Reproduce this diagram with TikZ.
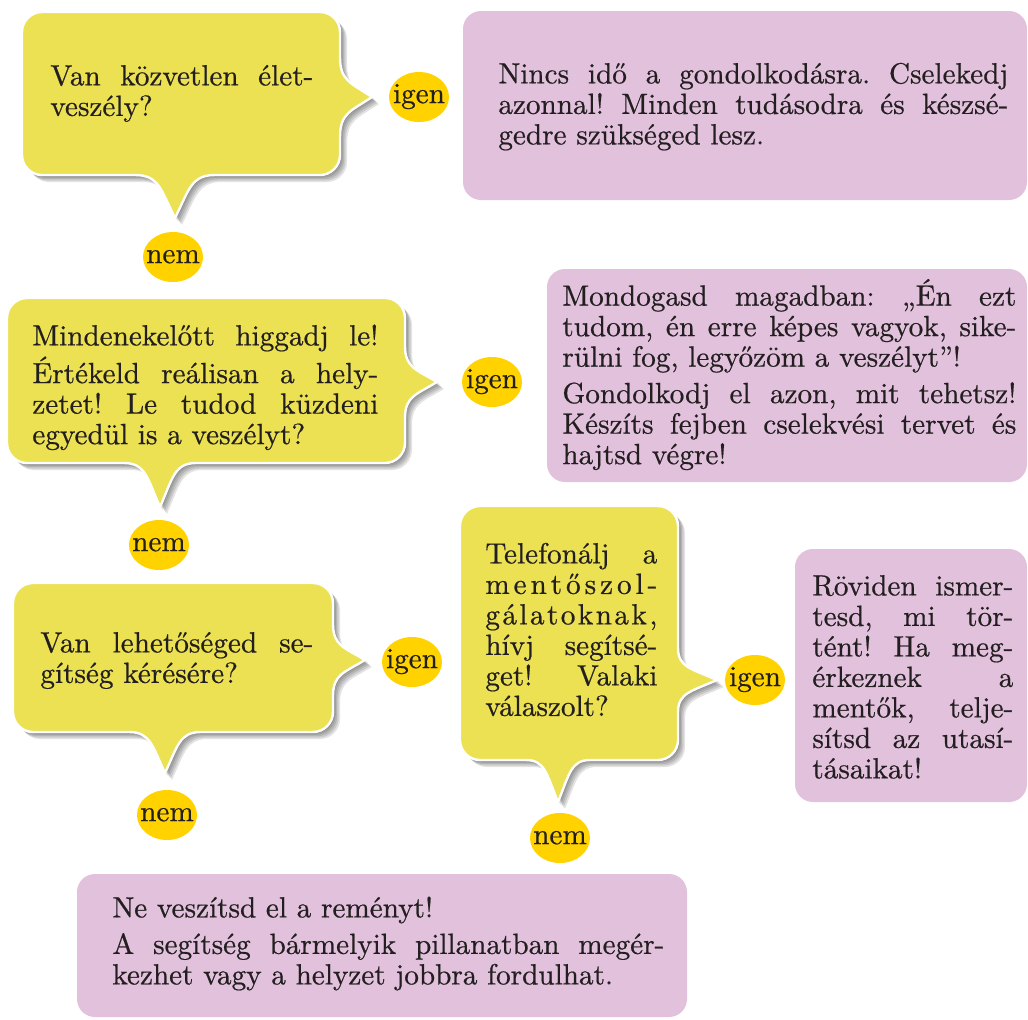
\documentclass[tikz,border=0pt]{standalone}
\usepackage{fontspec}
\setmainfont{lmroman10-regular.otf}[FakeBold=0.6]
\usetikzlibrary{shapes.geometric}

\definecolor{bubbleyellow}{RGB}{235,225,82}
\definecolor{boxpurple}{RGB}{226,193,221}
\definecolor{labelgold}{RGB}{255,210,0}
\definecolor{textdark}{RGB}{35,31,32}

% one justified line, one left-aligned line
\newcommand{\jline}[1]{\hbox to \hsize{\strut #1}}
\newcommand{\lline}[1]{\hbox to \hsize{\strut #1\hfil}}
\newcommand{\textlines}[2]{\vbox{\hsize=#1\relax\frenchspacing #2}}

% left, top, right, bottom, right tip x, right tip y, bottom tip x, bottom tip y, half base
\newcommand{\bubblepath}[9]{%
  (#1+20,#2) -- (#3-20,#2) .. controls (#3-9,#2) and (#3,#2+9) .. (#3,#2+20)
  -- (#3,#6-#9) .. controls (#3,#6-0.4*#9) and (#3+0.35*#5-0.35*#3,#6-0.35*#9) .. (#5,#6)
  .. controls (#3+0.35*#5-0.35*#3,#6+0.35*#9) and (#3,#6+0.4*#9) .. (#3,#6+#9)
  -- (#3,#4-20) .. controls (#3,#4-9) and (#3-9,#4) .. (#3-20,#4)
  -- (#7+#9,#4) .. controls (#7+0.4*#9,#4) and (#7+0.35*#9,#4+0.35*#8-0.35*#4) .. (#7,#8)
  .. controls (#7-0.35*#9,#4+0.35*#8-0.35*#4) and (#7-0.4*#9,#4) .. (#7-#9,#4)
  -- (#1+20,#4) .. controls (#1+9,#4) and (#1,#4-9) .. (#1,#4-20)
  -- (#1,#2+20) .. controls (#1,#2+9) and (#1+9,#2) .. (#1+20,#2) -- cycle}
\newcommand{\bubble}[9]{%
  \foreach \s in {1,...,5}
    \fill[black,opacity=0.11,xshift=\s*0.7pt,yshift=-\s*0.7pt] \bubblepath{#1}{#2}{#3}{#4}{#5}{#6}{#7}{#8}{#9};
  \filldraw[bubbleshape] \bubblepath{#1}{#2}{#3}{#4}{#5}{#6}{#7}{#8}{#9};
}

\begin{document}
\begin{tikzpicture}[x=0.5pt,y=-0.5pt,
    bubbleshape/.style={fill=bubbleyellow,draw=white,line width=1.2pt,line join=round},
    box/.style={fill=boxpurple,rounded corners=9pt},
    txt/.style={anchor=north west,inner sep=0pt,text=textdark,font=\fontsize{14.6}{15.25}\selectfont},
    answer/.style={ellipse,fill=labelgold,minimum width=30pt,minimum height=25pt,inner sep=0pt,
      text=textdark,font=\fontsize{14.6}{15.25}\selectfont}
  ]
  \useasboundingbox (0,0) rectangle (1028,1019);

  % question bubbles
  \bubble{22}{12}{340}{175}{372}{97}{175}{218}{40}
  \bubble{7}{298}{405}{463}{437}{382}{160}{507}{36}
  \bubble{13}{583}{333}{732}{365}{660}{165}{773}{36}
  \bubble{460}{506}{678}{760}{717}{680}{558}{802}{32}

  % answer boxes
  \fill[box] (463,11) rectangle (1027,200);
  \fill[box] (547,269) rectangle (1027,482);
  \fill[box] (795,549) rectangle (1027,802);
  \fill[box] (77,874) rectangle (687,1017);

  \node[answer] (igen1) at (419,97) {\makebox[0pt]{\strut igen}};
  \node[answer] (nem1) at (173,257) {\makebox[0pt]{\strut nem}};
  \node[answer] (igen2) at (492,382) {\makebox[0pt]{\strut igen}};
  \node[answer] (nem2) at (159,545) {\makebox[0pt]{\strut nem}};
  \node[answer] (igen3) at (412,662) {\makebox[0pt]{\strut igen}};
  \node[answer] (nem3) at (167,815) {\makebox[0pt]{\strut nem}};
  \node[answer] (igen4) at (755,680) {\makebox[0pt]{\strut igen}};
  \node[answer] (nem4) at (560,838) {\makebox[0pt]{\strut nem}};

  % questions
  \node[txt] (q1) at (50,63.65) {\textlines{131.5pt}{%
    \jline{Van közvetlen élet-}\lline{veszély?}}};
  \node[txt] (q2) at (32,323.65) {\textlines{173pt}{%
    \jline{Mindenekelőtt higgadj le!}\jline{Értékeld reálisan a hely-}%
    \jline{zetet! Le tudod küzdeni}\lline{egyedül is a veszélyt?}}};
  \node[txt] (q3) at (40,630.65) {\textlines{136.5pt}{%
    \jline{Van lehetőséged se-}\lline{gítség kérésére?}}};
  \node[txt] (q4) at (485,541.65) {\textlines{86pt}{%
    \jline{Telefonálj a}%
    \jline{m\hfil e\hfil n\hfil t\hfil ő\hfil s\hfil z\hfil o\hfil l\hfil -}%
    \jline{g\hfil á\hfil l\hfil a\hfil t\hfil o\hfil k\hfil n\hfil a\hfil k\hfil ,}%
    \jline{hívj segítsé-}\jline{get! Valaki}\lline{válaszolt?}}};

  % advice
  \node[txt] (a1) at (498,61.65) {\textlines{255pt}{%
    \jline{Nincs idő a gondolkodásra. Cselekedj}%
    \jline{azonnal! Minden tudásodra és készsé-}\lline{gedre szükséged lesz.}}};
  \node[txt] (a2) at (562,278.65) {\textlines{227pt}{%
    \jline{Mondogasd magadban: „Én ezt}\jline{tudom, én erre képes vagyok, sike-}%
    \lline{rülni fog, legyőzöm a veszélyt”!}\vskip3pt
    \jline{Gondolkodj el azon, mit tehetsz!}\jline{Készíts fejben cselekvési tervet és}%
    \lline{hajtsd végre!}}};
  \node[txt] (a4) at (812,573.65) {\textlines{100.5pt}{%
    \jline{Röviden ismer-}\jline{tesd, mi tör-}\jline{tént! Ha meg-}\jline{érkeznek a}%
    \jline{mentők, telje-}\jline{sítsd az utasí-}\lline{tásaikat!}}};
  \node[txt] (a5) at (112,895.65) {\textlines{276pt}{%
    \lline{Ne veszítsd el a reményt!}\vskip3pt
    \jline{A segítség bármelyik pillanatban megér-}%
    \lline{kezhet vagy a helyzet jobbra fordulhat.}}};
\end{tikzpicture}
\end{document}
